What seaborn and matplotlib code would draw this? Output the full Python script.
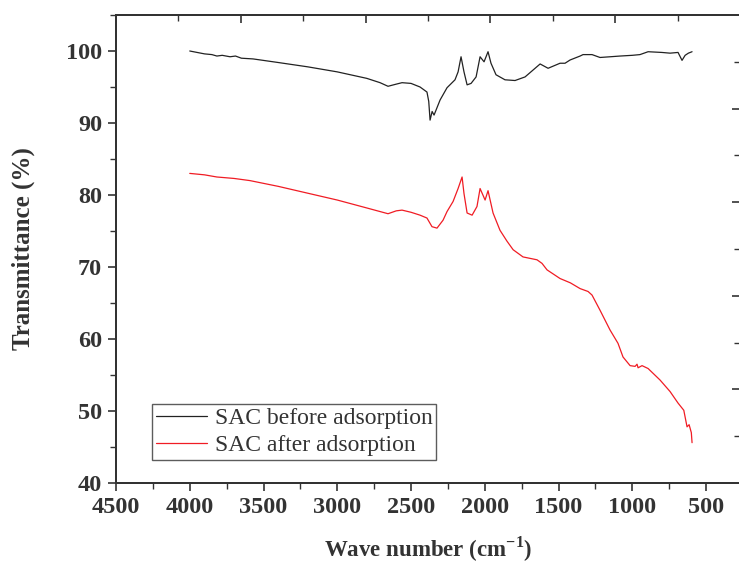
import matplotlib
matplotlib.use("Agg")
import matplotlib.pyplot as plt
import seaborn as sns
import pandas as pd
from matplotlib.ticker import MultipleLocator

# ---- data ----
wn_before = [4000, 3950, 3900, 3850, 3816, 3780, 3727, 3690, 3650, 3571, 3400, 3200, 3000, 2800, 2710, 2656,
             2600, 2561, 2500, 2439, 2392, 2380, 2371, 2357, 2344, 2303, 2256, 2202, 2181, 2161, 2141, 2120,
             2093, 2059, 2032, 2005, 1978, 1958, 1924, 1863, 1795, 1727, 1625, 1571, 1490, 1456, 1422, 1354,
             1334, 1273, 1219, 1150, 1083, 1000, 948, 893, 800, 744, 690, 663, 642, 620, 595]
tr_before = [100.0, 99.8, 99.6, 99.5, 99.3, 99.4, 99.2, 99.3, 99.0, 98.9, 98.4, 97.8, 97.1, 96.2, 95.6, 95.1,
             95.4, 95.6, 95.5, 95.0, 94.3, 93.0, 90.4, 91.6, 91.1, 93.2, 94.9, 96.0, 97.1, 99.2, 97.1, 95.3,
             95.5, 96.4, 99.2, 98.5, 99.9, 98.3, 96.7, 96.0, 95.9, 96.4, 98.2, 97.6, 98.3, 98.3, 98.75, 99.3,
             99.5, 99.5, 99.1, 99.2, 99.3, 99.4, 99.5, 99.9, 99.8, 99.7, 99.8, 98.7, 99.4, 99.7, 99.9]

wn_after = [4000, 3900, 3816, 3700, 3592, 3400, 3253, 3000, 2800, 2710, 2656, 2600, 2561, 2500, 2439, 2392,
            2358, 2324, 2283, 2256, 2215, 2181, 2154, 2141, 2120, 2086, 2053, 2032, 1998, 1978, 1944, 1897,
            1850, 1808, 1741, 1646, 1612, 1578, 1490, 1420, 1354, 1300, 1273, 1219, 1151, 1097, 1063, 1015,
            981, 968, 961, 934, 893, 812, 744, 690, 651, 629, 615, 600, 595]
tr_after = [83.0, 82.8, 82.5, 82.3, 82.0, 81.2, 80.5, 79.3, 78.2, 77.7, 77.4, 77.8, 77.9, 77.6, 77.2, 76.8,
            75.6, 75.4, 76.5, 77.7, 79.1, 80.9, 82.5, 80.2, 77.5, 77.2, 78.4, 80.9, 79.3, 80.6, 77.5, 75.1,
            73.6, 72.4, 71.4, 71.0, 70.5, 69.6, 68.4, 67.8, 67.0, 66.6, 66.1, 64.0, 61.25, 59.4, 57.5, 56.3,
            56.2, 56.5, 56.0, 56.3, 55.9, 54.3, 52.7, 51.1, 50.1, 47.8, 48.1, 47.0, 45.6]

labels = ["SAC before adsorption", "SAC after adsorption"]
x_ticks = [4500, 4000, 3500, 3000, 2500, 2000, 1500, 1000, 500]
y_ticks = [40, 50, 60, 70, 80, 90, 100]

sns.set_style("white")
plt.rcParams["font.family"] = ["Liberation Serif", "DejaVu Serif"]
plt.rcParams["mathtext.fontset"] = "custom"
plt.rcParams["mathtext.bf"] = "Liberation Serif:bold"
plt.rcParams["mathtext.rm"] = "Liberation Serif"

W, H = 739, 564
fig = plt.figure(figsize=(W / 100, H / 100), dpi=100)
left, right, top, bottom = 116, 740, 15, 483
ax = fig.add_axes([left / W, 1 - bottom / H, (right - left) / W, (bottom - top) / H])

df_b = pd.DataFrame({"wn": wn_before, "T": tr_before})
df_a = pd.DataFrame({"wn": wn_after, "T": tr_after})
sns.lineplot(data=df_b, x="wn", y="T", ax=ax, color="#222222", lw=0.9, estimator=None, sort=False, label=labels[0])
sns.lineplot(data=df_a, x="wn", y="T", ax=ax, color="#f01c24", lw=0.9, estimator=None, sort=False, label=labels[1])

ax.set_xlim(4500, 270)
ax.set_ylim(40, 105)
ax.set_xticks(x_ticks)
ax.set_yticks(y_ticks)
ax.xaxis.set_minor_locator(MultipleLocator(250))
ax.yaxis.set_minor_locator(MultipleLocator(5))
ax.tick_params(axis="both", which="major", direction="out", length=6, width=1.2, colors="#333333",
               labelsize=17.5, labelcolor="#333333", pad=4)
ax.tick_params(axis="both", which="minor", direction="out", length=4, width=1.0, colors="#333333")
for t in ax.get_xticklabels() + ax.get_yticklabels():
    t.set_fontweight("bold")
for s in ax.spines.values():
    s.set_color("#333333")
    s.set_linewidth(1.2)

ax.set_xlabel("Wave number (cm$^{\\mathbf{-1}}$)", fontsize=16.5, fontweight="bold", color="#333333", labelpad=12)
ax.set_ylabel("Transmittance (%)", fontsize=18, fontweight="bold", color="#333333", labelpad=22)

# top and right secondary ticks (no labels)
axt = ax.twiny()
axt.set_xlim(0, 5)
axt.xaxis.set_major_locator(MultipleLocator(1))
axt.xaxis.set_minor_locator(MultipleLocator(0.5))
axt.tick_params(axis="x", which="major", direction="in", length=6, width=1.2, colors="#333333", labeltop=False)
axt.tick_params(axis="x", which="minor", direction="in", length=4, width=1.0, colors="#333333")
axr = ax.twinx()
axr.set_ylim(0, 5)
axr.yaxis.set_major_locator(MultipleLocator(1))
axr.yaxis.set_minor_locator(MultipleLocator(0.5))
axr.tick_params(axis="y", which="major", direction="in", length=6, width=1.2, colors="#333333", labelright=False)
axr.tick_params(axis="y", which="minor", direction="in", length=4, width=1.0, colors="#333333")
for a in (axt, axr):
    for s in a.spines.values():
        s.set_color("#333333")
        s.set_linewidth(1.2)

ax.get_legend().remove()
h, l = ax.get_legend_handles_labels()
leg = axr.legend(h, l, loc="lower left", bbox_to_anchor=((152 - left) / (right - left), (bottom - 460) / (bottom - top)),
                 borderaxespad=0, fontsize=17, frameon=True, fancybox=False, handlelength=2.2,
                 handletextpad=0.3, borderpad=0.15, labelspacing=0.25)
leg.get_frame().set_edgecolor("#333333")
leg.get_frame().set_linewidth(1.0)
for t in leg.get_texts():
    t.set_color("#333333")

fig.savefig("out.png", dpi=100)
